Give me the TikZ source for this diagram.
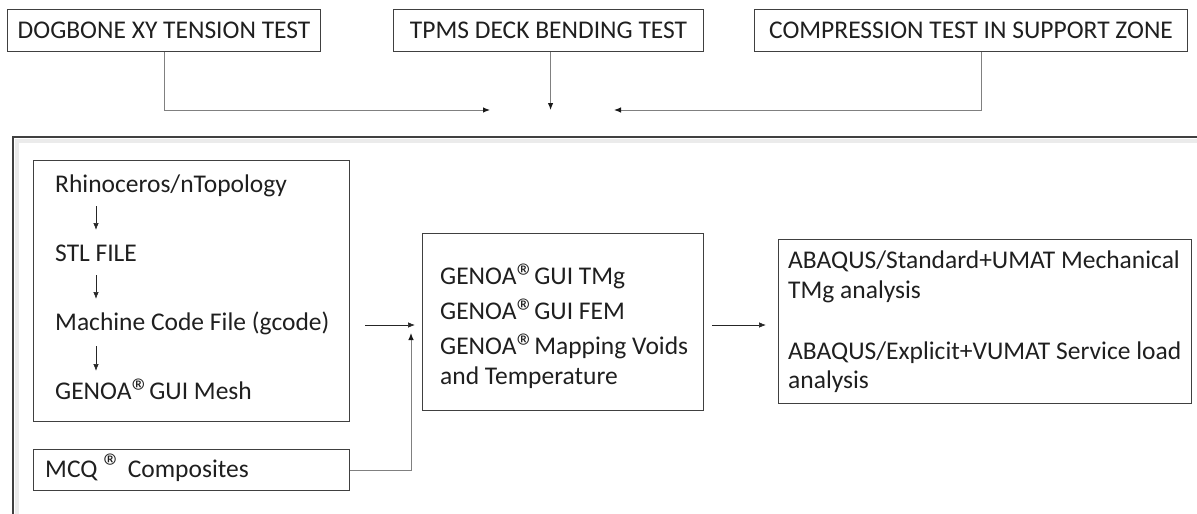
\documentclass[tikz,border=0pt]{standalone}
\usepackage{fontspec}
\setmainfont{Carlito}
\usetikzlibrary{arrows.meta,calc}
\newcommand{\regmark}{\smash{\raisebox{-5.5pt}{\fontsize{37}{37}\selectfont ®}}\hspace{-1pt}}
\newcommand{\regsup}{\smash{\raisebox{-2pt}{\fontsize{37}{37}\selectfont ®}}}
\begin{document}
\begin{tikzpicture}[x=1pt,y=-1pt,
  box/.style={draw=black!75, line width=1.1pt, inner sep=0pt, anchor=north west},
  txt/.style={inner sep=0pt, anchor=base west, text=black!88, font=\fontsize{25.5}{30}\selectfont},
  ctxt/.style={inner sep=0pt, text=black!88, font=\fontsize{25.5}{30}\selectfont},
  arr/.style={-{Latex[length=7pt,width=5.5pt]}, line width=0.7pt, draw=black!85},
  link/.style={-{Latex[length=7pt,width=5.5pt,color=black!90]}, line width=1pt, draw=black!50}
]
\useasboundingbox (0,0) rectangle (1197,514);
% outer frame
\draw[black!8, line width=4pt] (17,514) -- (17,141) -- (1197,141);
\draw[black!75, line width=2pt] (13,514) -- (13,137) -- (1197,137);

% top boxes
\node[box, minimum width=313pt, minimum height=42pt] (b1) at (7,9) {};
\node[ctxt] (b1t) at (b1.center) {DOGBONE XY TENSION TEST};
\node[box, minimum width=310pt, minimum height=42pt] (b2) at (393,9) {};
\node[ctxt] (b2t) at (b2.center) {TPMS DECK BENDING TEST};
\node[box, minimum width=433pt, minimum height=42pt] (b3) at (754,9) {};
\node[ctxt] (b3t) at (b3.center) {COMPRESSION TEST IN SUPPORT ZONE};

\coordinate (c1) at (490,110);
\coordinate (c2) at (550,110);
\coordinate (c3) at (614,110);
\draw[link] (b1.south) |- (c1);
\draw[link] ([xshift=2pt]b2.south) -- ([xshift=2pt]b2.south |- c2);
\draw[link] ([xshift=10pt]b3.south) |- (c3);

% left box
\node[box, minimum width=316pt, minimum height=261pt] (lb) at (33,160) {};
\node[txt] (t1) at (55,192) {Rhinoceros/nTopology};
\node[txt] (t2) at (55,261) {STL FILE};
\node[txt] (t3) at (55,330) {Machine Code File (gcode)};
\node[txt] (t4) at (55,399) {GENOA\regmark GUI Mesh};
\coordinate (ax) at (96,0);
\draw[arr] (ax |- 0,206) coordinate (a1s) -- (ax |- 0,230) coordinate (a1e);
\draw[arr] (ax |- 0,275) coordinate (a2s) -- (ax |- 0,299) coordinate (a2e);
\draw[arr] (ax |- 0,346) coordinate (a3s) -- (ax |- 0,371) coordinate (a3e);

% MCQ box
\node[box, minimum width=316pt, minimum height=41pt] (mcq) at (33,449) {};
\node[txt] (mt) at (45,477) {MCQ \regsup{} Composites};

% middle box
\node[box, minimum width=281pt, minimum height=177pt] (mb) at (422,233) {};
\node[txt] (m1) at (440,284) {GENOA\regmark GUI TMg};
\node[txt] (m2) at (440,319) {GENOA\regmark GUI FEM};
\node[txt] (m3) at (440,354) {GENOA\regmark Mapping Voids};
\node[txt] (m4) at (440,384) {and Temperature};

% right box
\node[box, minimum width=413pt, minimum height=164pt] (rb) at (778,239) {};
\node[txt] (r1) at (788,268) {ABAQUS/Standard+UMAT Mechanical};
\node[txt] (r2) at (788,298) {TMg analysis};
\node[txt] (r3) at (788,359) {ABAQUS/Explicit+VUMAT Service load};
\node[txt] (r4) at (788,388) {analysis};

% connectors
\coordinate (j) at (415,325);
\coordinate (j2) at (411,333);
\draw[arr] ([xshift=15pt]lb.east |- j) -- (j);
\draw[link] (mcq.east) -| (j2);
\draw[arr] ([xshift=8pt]mb.east |- 0,325) -- ([xshift=-12pt]rb.west |- 0,325);
\end{tikzpicture}
\end{document}
